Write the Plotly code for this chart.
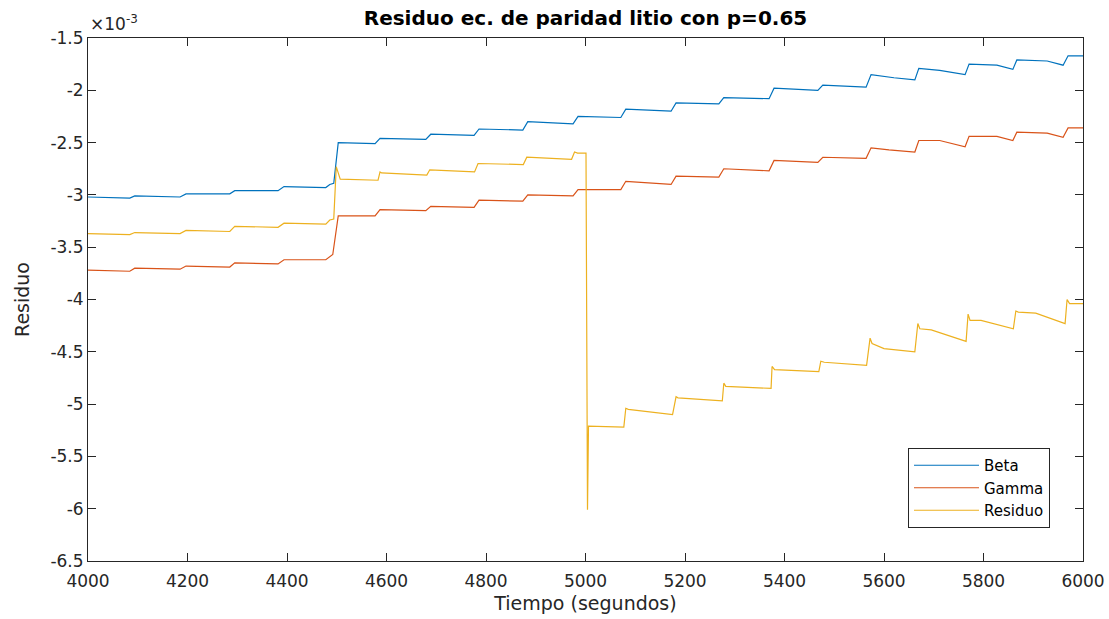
import plotly.graph_objects as go

# Values in units of 1e-3 (MATLAB axis exponent shown as x10^-3)
beta_t = [4000, 4084, 4094, 4185, 4197, 4285, 4295, 4382, 4394, 4478, 4486, 4494, 4503,
          4577, 4587, 4679, 4689, 4776, 4786, 4874, 4884, 4975, 4985, 5071, 5081, 5172,
          5182, 5268, 5278, 5369, 5379, 5467, 5477, 5564, 5574, 5620, 5662, 5670, 5712,
          5763, 5771, 5827, 5859, 5867, 5928, 5960, 5970, 6000]
beta_v = [-3.02, -3.03, -3.01, -3.02, -2.99, -2.99, -2.96, -2.96, -2.92, -2.93, -2.90, -2.89, -2.50,
          -2.51, -2.46, -2.47, -2.42, -2.43, -2.37, -2.38, -2.30, -2.32, -2.25, -2.26, -2.18, -2.20,
          -2.12, -2.13, -2.07, -2.08, -1.98, -2.00, -1.95, -1.97, -1.85, -1.88, -1.90, -1.79, -1.81,
          -1.85, -1.75, -1.76, -1.80, -1.71, -1.72, -1.76, -1.67, -1.67]

gamma_t = [4000, 4084, 4094, 4185, 4197, 4285, 4295, 4382, 4394, 4478, 4492, 4503,
           4577, 4587, 4679, 4689, 4776, 4786, 4874, 4884, 4975, 4985, 5071, 5081, 5172,
           5182, 5268, 5278, 5369, 5379, 5467, 5477, 5564, 5574, 5610, 5662, 5670, 5712,
           5763, 5771, 5827, 5859, 5867, 5928, 5960, 5970, 6000]
gamma_v = [-3.72, -3.73, -3.70, -3.71, -3.68, -3.69, -3.65, -3.66, -3.62, -3.62, -3.57, -3.20,
           -3.20, -3.14, -3.15, -3.11, -3.12, -3.05, -3.06, -3.00, -3.01, -2.95, -2.95, -2.87, -2.90,
           -2.82, -2.83, -2.75, -2.77, -2.67, -2.69, -2.64, -2.65, -2.55, -2.57, -2.59, -2.48, -2.48,
           -2.54, -2.44, -2.44, -2.48, -2.40, -2.41, -2.45, -2.36, -2.36]

res_t = [4000, 4084, 4094, 4185, 4197, 4285, 4295, 4382, 4394, 4478, 4486, 4494, 4499, 4507,
         4583, 4587, 4590, 4681, 4687, 4777, 4784, 4875, 4882, 4972, 4978, 4984, 5001, 5004,
         5006, 5077, 5081, 5086, 5175, 5182, 5186, 5275, 5278, 5282, 5373, 5375, 5380, 5469,
         5473, 5480, 5565, 5572, 5576, 5600, 5662, 5668, 5672, 5695, 5765, 5769, 5773, 5795,
         5860, 5865, 5870, 5905, 5964, 5968, 5973, 6000]
res_v = [-3.37, -3.38, -3.36, -3.37, -3.34, -3.35, -3.30, -3.31, -3.27, -3.28, -3.24, -3.23, -2.73, -2.85,
         -2.86, -2.78, -2.79, -2.81, -2.76, -2.78, -2.70, -2.71, -2.64, -2.66, -2.59, -2.60, -2.60, -6.01,
         -5.21, -5.22, -5.04, -5.05, -5.10, -4.93, -4.94, -4.97, -4.80, -4.83, -4.85, -4.64, -4.67, -4.69,
         -4.59, -4.60, -4.63, -4.37, -4.42, -4.47, -4.50, -4.23, -4.28, -4.29, -4.40, -4.14, -4.20, -4.20,
         -4.28, -4.11, -4.12, -4.13, -4.23, -4.00, -4.04, -4.04]

x_ticks = [4000, 4200, 4400, 4600, 4800, 5000, 5200, 5400, 5600, 5800, 6000]
y_ticks = [-6.5, -6, -5.5, -5, -4.5, -4, -3.5, -3, -2.5, -2, -1.5]
y_tick_text = ["-6.5", "-6", "-5.5", "-5", "-4.5", "-4", "-3.5", "-3", "-2.5", "-2", "-1.5"]

FONT = "DejaVu Sans, Liberation Sans, Arial, sans-serif"
AX = "#262626"

fig = go.Figure()
fig.add_trace(go.Scatter(x=beta_t, y=beta_v, mode="lines", name="Beta",
                         line=dict(color="#0072BD", width=1.2)))
fig.add_trace(go.Scatter(x=gamma_t, y=gamma_v, mode="lines", name="Gamma",
                         line=dict(color="#D95319", width=1.2)))
fig.add_trace(go.Scatter(x=res_t, y=res_v, mode="lines", name="Residuo",
                         line=dict(color="#EDB120", width=1.2)))

fig.update_layout(
    width=1109, height=619,
    margin=dict(l=88, r=26, t=38, b=58, autoexpand=False),
    paper_bgcolor="white", plot_bgcolor="white",
    font=dict(family=FONT, color=AX, size=16),
    title=dict(text="<b>Residuo ec. de paridad litio con p=0.65</b>",
               x=(88 + 1083) / 2 / 1109, xanchor="center", y=1 - 18 / 619, yanchor="middle",
               font=dict(size=20, color="black", family=FONT)),
    showlegend=True,
    legend=dict(x=(1050 - 88) / 995, y=(561 - 528) / 523, xanchor="right", yanchor="bottom",
                bgcolor="white", bordercolor=AX, borderwidth=1,
                font=dict(size=15, color="black", family=FONT),
                itemwidth=65, tracegroupgap=0),
)
fig.update_xaxes(range=[4000, 6000], tickvals=x_ticks, ticks="inside", ticklen=8,
                 showline=True, linecolor=AX, linewidth=1, mirror="ticks", automargin=False,
                 showgrid=False, zeroline=False, tickcolor=AX, ticklabelstandoff=5,
                 tickfont=dict(size=17, color=AX),
                 title=dict(text="Tiempo (segundos)", font=dict(size=19, color=AX), standoff=6))
fig.update_yaxes(range=[-6.5, -1.5], tickvals=y_ticks, ticktext=y_tick_text, ticks="inside", ticklen=8,
                 showline=True, linecolor=AX, linewidth=1, mirror="ticks", automargin=False,
                 showgrid=False, zeroline=False, tickcolor=AX,
                 tickfont=dict(size=17, color=AX),
                 title=dict(text="Residuo", font=dict(size=19, color=AX), standoff=15))
fig.add_annotation(xref="paper", yref="paper", x=0, y=1, xanchor="left", yanchor="bottom",
                   xshift=0, yshift=2, showarrow=False,
                   text="\u00d710<sup>-3</sup>", font=dict(size=17, color=AX, family=FONT))

fig.write_html("out.html", config={"displayModeBar": False},
               post_script="document.body.style.margin='0';document.body.style.overflow='hidden';")
